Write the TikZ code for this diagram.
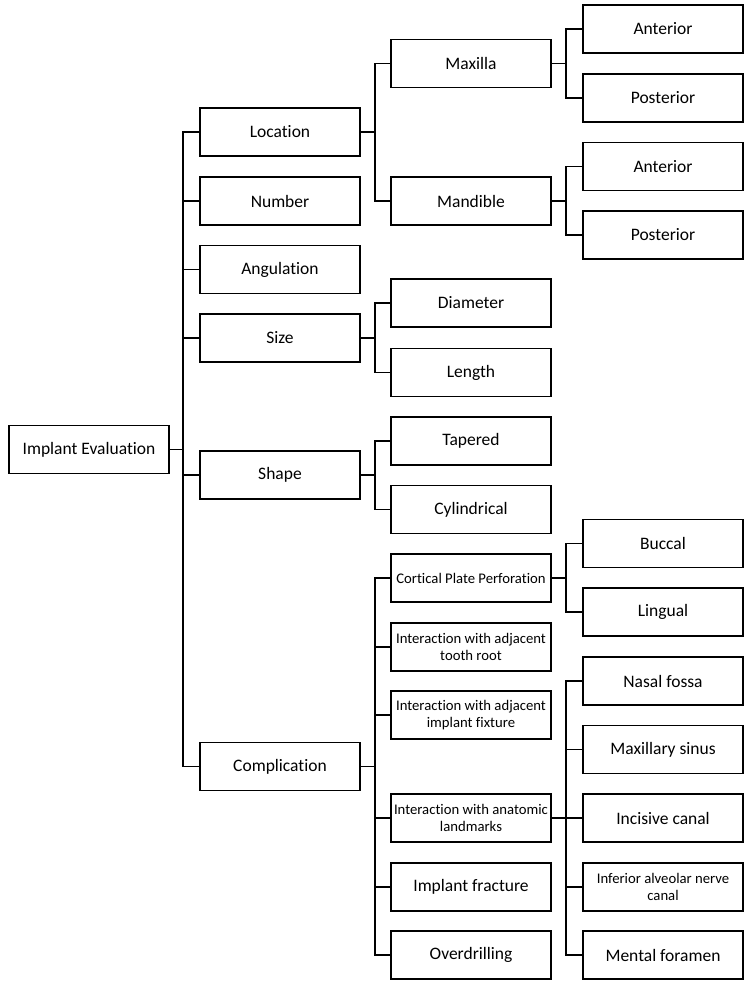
\documentclass[tikz,border=0pt]{standalone}
\usepackage{fontspec}
\setmainfont[Ligatures=NoCommon]{Carlito}
\begin{document}
\begin{tikzpicture}[x=1pt,y=-1pt,
  box/.style={draw=black, line width=1.8pt, minimum width=160pt, minimum height=48pt,
    inner sep=0pt, align=center, font=\fontsize{17.5}{20}\selectfont},
  small/.style={font=\fontsize{14.7}{17}\selectfont},
  link/.style={draw=black, line width=1.8pt}]
\useasboundingbox (0,0) rectangle (748,985);
% root
\node[box] (root) at (89,449.5) {Implant Evaluation};
% column 1
\node[box] (loc) at (280,132) {Location};
\node[box] (num) at (280,201) {Number};
\node[box] (ang) at (280,269.5) {Angulation};
\node[box] (size) at (280,338) {Size};
\node[box] (shape) at (280,475) {Shape};
\node[box] (comp) at (280,766.5) {Complication};
% column 2
\node[box] (max) at (471,63.5) {Maxilla};
\node[box] (mand) at (471,201) {Mandible};
\node[box] (diam) at (471,303) {Diameter};
\node[box] (len) at (471,372.5) {Length};
\node[box] (tap) at (471,441) {Tapered};
\node[box] (cyl) at (471,509.5) {Cylindrical};
\node[box,small] (cort) at (471,578) {Cortical Plate Perforation};
\node[box,small] (root2) at (471,647) {Interaction with adjacent\\tooth root};
\node[box,small] (fix) at (471,715) {Interaction with adjacent\\implant fixture};
\node[box,small] (anat) at (471,818) {Interaction with anatomic\\landmarks};
\node[box] (frac) at (471,887) {Implant fracture};
\node[box] (over) at (471,955) {Overdrilling};
% column 3
\node[box] (ant1) at (663,29) {Anterior};
\node[box] (pos1) at (663,98) {Posterior};
\node[box] (ant2) at (663,166.5) {Anterior};
\node[box] (pos2) at (663,235) {Posterior};
\node[box] (bucc) at (663,543.5) {Buccal};
\node[box] (ling) at (663,612) {Lingual};
\node[box] (nasal) at (663,681) {Nasal fossa};
\node[box] (sinus) at (663,749.5) {Maxillary sinus};
\node[box] (inc) at (663,818) {Incisive canal};
\node[box,small] (ian) at (663,887) {Inferior alveolar nerve\\canal};
\node[box] (ment) at (663,955) {Mental foramen};
% connectors
\foreach \c in {loc,num,ang,size,shape,comp}
  \draw[link] (\c.west) -- ++(-16,0) |- (root.east);
\foreach \c in {max,mand}
  \draw[link] (\c.west) -- ++(-15,0) |- (loc.east);
\foreach \c in {diam,len}
  \draw[link] (\c.west) -- ++(-15,0) |- (size.east);
\foreach \c in {tap,cyl}
  \draw[link] (\c.west) -- ++(-15,0) |- (shape.east);
\foreach \c in {cort,root2,fix,anat,frac,over}
  \draw[link] (\c.west) -- ++(-15,0) |- (comp.east);
\foreach \c in {ant1,pos1}
  \draw[link] (\c.west) -- ++(-16,0) |- (max.east);
\foreach \c in {ant2,pos2}
  \draw[link] (\c.west) -- ++(-16,0) |- (mand.east);
\foreach \c in {bucc,ling}
  \draw[link] (\c.west) -- ++(-16,0) |- (cort.east);
\foreach \c in {nasal,sinus,inc,ian,ment}
  \draw[link] (\c.west) -- ++(-16,0) |- (anat.east);
\end{tikzpicture}
\end{document}
